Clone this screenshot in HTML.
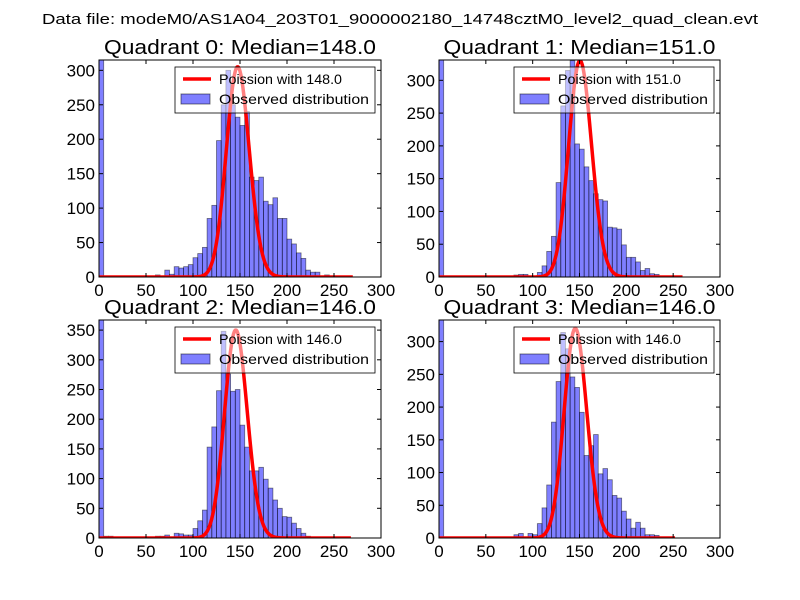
<!DOCTYPE html>
<html><head><meta charset="utf-8"><style>
body{margin:0;background:#fff;}
svg{display:block;font-family:"Liberation Sans","DejaVu Sans",sans-serif;}
</style></head><body>
<svg id="fig" width="800" height="600" viewBox="0 0 800 600">
<rect width="800" height="600" fill="#fff"/>
<text x="42" y="24" font-size="15" textLength="716" lengthAdjust="spacingAndGlyphs">Data file: modeM0/AS1A04_203T01_9000002180_14748cztM0_level2_quad_clean.evt</text>
</svg>
<script>
// bin starts every 5 units from 0
const binWidth = 5;
const q0Counts = [315,0,0,0,0,0,0,0,0,0,0,0,3,0,10,4,15,13,15,18,28,34,43,85,104,198,250,300,250,232,220,240,145,140,145,110,105,115,85,85,55,48,35,27,10,7,7,0,3,0,0,0,0,0];
const q1Counts = [331,0,0,0,0,0,0,0,0,0,0,0,0,0,0,0,3,4,4,0,0,7,17,39,62,144,261,315,330,203,195,168,147,127,118,116,76,75,73,49,30,30,23,10,13,5,4,0,0,0,0,0];
const q2Counts = [367,3,3,0,0,0,0,0,0,0,0,0,3,3,5,0,8,7,5,5,16,29,47,153,187,248,348,276,247,250,190,153,113,113,119,99,84,64,50,36,35,25,16,8,3,0,0,0,0,0,0,0,0,0];
const q3Counts = [333,0,0,0,0,0,0,0,0,0,0,0,0,0,0,0,5,7,0,7,5,22,46,81,177,239,314,289,246,230,192,126,141,158,98,106,89,65,61,41,29,15,24,15,5,5,4,0,0,0,0];
const medians = [148,151,146,146];
const poissonPeaks = [305,330,350,320];
const curveEnds = [270,260,268,252];
const yMaxes = [315,331,367,333];
const yTicks = [[0,50,100,150,200,250,300],[0,50,100,150,200,250,300],[0,50,100,150,200,250,300,350],[0,50,100,150,200,250,300]];
const xTicks = [0,50,100,150,200,250,300];
const allCounts=[q0Counts,q1Counts,q2Counts,q3Counts];
const boxes=[[99,60,381,277],[439,60,720,277],[99,320,381,538],[439,320,720,538]];
const NS="http://www.w3.org/2000/svg";
const svg=document.getElementById('fig');
function mk(tag,attrs,parent){const e=document.createElementNS(NS,tag);for(const k in attrs)e.setAttribute(k,attrs[k]);(parent||svg).appendChild(e);return e;}
function lgam(n){let s=0;for(let i=2;i<=n;i++)s+=Math.log(i);return s;}
function pmf(k,l){return Math.exp(k*Math.log(l)-l-lgam(k));}
for(let q=0;q<4;q++){
  const [x0,y0,x1,y1]=boxes[q];
  const g=mk('g',{});
  
  
  const sx=v=>x0+(x1-x0)*v/300;
  const sy=v=>y1-(y1-y0)*v/yMaxes[q];
  const t=mk('text',{x:(x0+x1)/2-136,y:y0-6,'font-size':20,textLength:272,lengthAdjust:'spacingAndGlyphs'},g);
  t.textContent='Quadrant '+q+': Median='+medians[q].toFixed(1);
  
  
  const clip=mk('clipPath',{id:'c'+q},g);mk('rect',{x:x0,y:y0,width:x1-x0,height:y1-y0},clip);
  const plot=mk('g',{'clip-path':'url(#c'+q+')'},g);
  allCounts[q].forEach((c,i)=>{
    if(c<=0)return;
    const r=mk('rect',{x:sx(i*binWidth),y:sy(c),width:sx(binWidth)-sx(0),height:sy(0)-sy(c),fill:'rgba(0,0,255,0.5)',stroke:'rgba(0,0,0,0.5)','stroke-width':0.8},plot);
    
    
  });
  const lam=medians[q];const mode=Math.floor(lam);const sc=poissonPeaks[q]/pmf(mode,lam);
  let d='';
  for(let k=0;k<=curveEnds[q];k++){d+=(k?'L':'M')+sx(k).toFixed(2)+','+sy(pmf(k,lam)*sc).toFixed(2);}
  const pl=mk('path',{d:d,fill:'none',stroke:'#f00','stroke-width':3.5,'stroke-linejoin':'round'},plot);
  
  
  const fr=mk('rect',{x:x0,y:y0,width:x1-x0,height:y1-y0,fill:'none',stroke:'#000','stroke-width':1},g);
  
  
  xTicks.forEach(v=>{
    const X=sx(v);
    mk('line',{x1:X,x2:X,y1:y1,y2:y1-4,stroke:'#000'},g);
    mk('line',{x1:X,x2:X,y1:y0,y2:y0+4,stroke:'#000'},g);
    const tl=mk('text',{x:X,y:y1+19,'font-size':17,'text-anchor':'middle'},g);tl.textContent=v;
    
    
  });
  yTicks[q].forEach(v=>{
    const Y=sy(v);
    mk('line',{x1:x0,x2:x0+4,y1:Y,y2:Y,stroke:'#000'},g);
    mk('line',{x1:x1,x2:x1-4,y1:Y,y2:Y,stroke:'#000'},g);
    const tl=mk('text',{x:x0-4,y:Y+6,'font-size':17,'text-anchor':'end'},g);tl.textContent=v;
    
    
  });
  const lx=x0+(q%2?75:76), ly=y0+7;
  const lg=mk('g',{},g);
  
  
  mk('rect',{x:lx,y:ly,width:200,height:46,fill:'rgba(255,255,255,0.5)',stroke:'#000','stroke-width':0.8},lg);
  mk('line',{x1:lx+8,x2:lx+36,y1:ly+12,y2:ly+12,stroke:'#f00','stroke-width':3.5},lg);
  const t1=mk('text',{x:lx+44,y:ly+17,'font-size':14,textLength:123,lengthAdjust:'spacingAndGlyphs'},lg);t1.textContent='Poission with '+medians[q].toFixed(1);
  
  
  mk('rect',{x:lx+6,y:ly+27,width:29,height:10,fill:'rgba(0,0,255,0.5)',stroke:'rgba(0,0,0,0.5)'},lg);
  const t2=mk('text',{x:lx+44,y:ly+37,'font-size':14,textLength:150,lengthAdjust:'spacingAndGlyphs'},lg);t2.textContent='Observed distribution';
  
  
}
</script>
</body></html>
